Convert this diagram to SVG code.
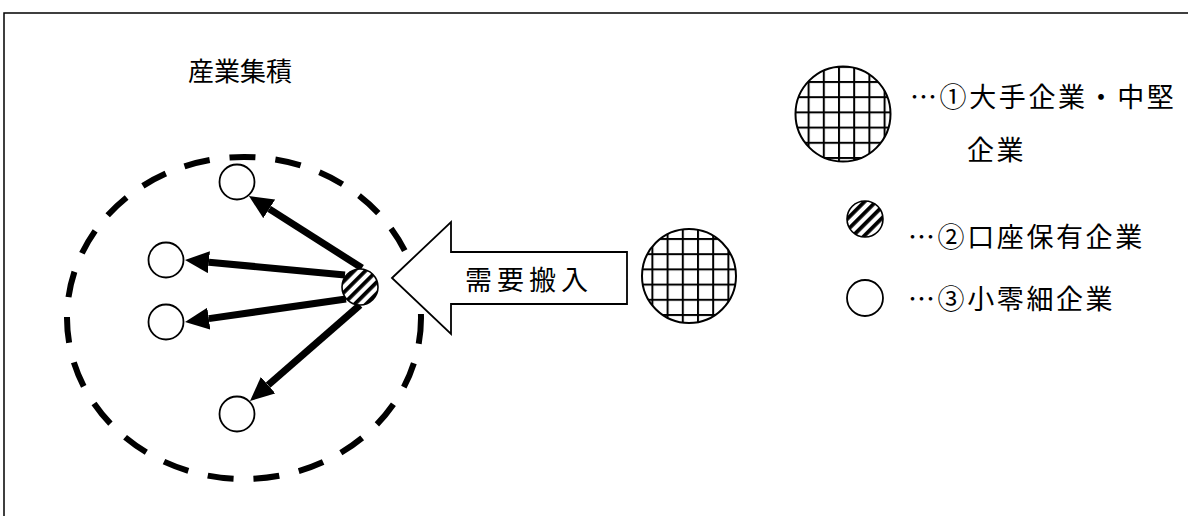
<svg xmlns="http://www.w3.org/2000/svg" width="1188" height="516" viewBox="0 0 1188 516">
<style>
.t{font-family:"Noto Sans CJK JP","Noto Sans CJK SC",sans-serif;font-size:27px;fill:#000}
.ls{letter-spacing:2.6px}
.ls2{letter-spacing:5px}
.w{fill:#fff;stroke:#000;stroke-width:1.8}
.h{fill:url(#hatch);stroke:#000;stroke-width:1.6}
.conn{stroke:#000;stroke-width:7;fill:none;marker-end:url(#ah)}
</style>
<defs>
<pattern id="hatch" patternUnits="userSpaceOnUse" width="8" height="8" patternTransform="rotate(45)">
<rect width="8" height="8" fill="#fff"/>
<rect width="3.8" height="8" fill="#000"/>
</pattern>
<pattern id="grid1" patternUnits="userSpaceOnUse" x="13" y="10" width="15.2" height="15.2">
<rect width="15.2" height="15.2" fill="#fff"/>
<rect width="2" height="15.2" fill="#000"/>
<rect width="15.2" height="2" fill="#000"/>
</pattern>
<pattern id="grid2" patternUnits="userSpaceOnUse" x="2" y="5" width="15.2" height="15.2">
<rect width="15.2" height="15.2" fill="#fff"/>
<rect width="2" height="15.2" fill="#000"/>
<rect width="15.2" height="2" fill="#000"/>
</pattern>
<marker id="ah" viewBox="0 -11 24 22" refX="0" refY="0" markerWidth="24" markerHeight="22" markerUnits="userSpaceOnUse" orient="auto">
<path d="M0,-11 L24,0 L0,11 z" fill="#000"/>
</marker>
</defs>

<path d="M4,516 V13 H1188" fill="none" stroke="#000" stroke-width="1.5"/>

<g id="cluster">
<ellipse cx="244" cy="318" rx="177" ry="161" fill="none" stroke="#000" stroke-width="6" stroke-dasharray="26 20"/>
<text class="t" x="188" y="81" style="font-size:26px">産業集積</text>
</g>

<g id="demand-arrow">
<polygon points="392,278 451,222 451,252 627,252 627,304 451,304 451,334" fill="#fff" stroke="#000" stroke-width="1.8" stroke-linejoin="miter"/>
<text class="t ls2" x="465" y="290">需要搬入</text>
</g>

<g id="big-company">
<circle cx="689" cy="276" r="47" fill="url(#grid1)" stroke="#000" stroke-width="2"/>
</g>

<g id="small-1"><circle class="w" cx="237" cy="182" r="17.5"/></g>
<g id="small-2"><circle class="w" cx="166" cy="260" r="17.5"/></g>
<g id="small-3"><circle class="w" cx="166" cy="322" r="17.5"/></g>
<g id="small-4"><circle class="w" cx="237" cy="414" r="17.5"/></g>

<g id="connectors">
<line class="conn" x1="362" y1="268" x2="269.2" y2="208.9"/>
<line class="conn" x1="345" y1="275" x2="208.9" y2="262.2"/>
<line class="conn" x1="346" y1="299" x2="208.8" y2="318.6"/>
<line class="conn" x1="360" y1="305" x2="268.1" y2="385.2"/>
</g>

<g id="account-company"><circle class="h" cx="360" cy="287" r="18"/></g>

<g id="legend-1">
<circle cx="843" cy="114" r="47.5" fill="url(#grid2)" stroke="#000" stroke-width="2"/>
<text class="t ls" x="910" y="107">…①大手企業・中堅</text>
<text class="t ls" x="967" y="160">企業</text>
</g>
<g id="legend-2">
<circle class="h" cx="865" cy="219" r="18"/>
<text class="t ls" x="908" y="247">…②口座保有企業</text>
</g>
<g id="legend-3">
<circle class="w" cx="865" cy="298" r="18"/>
<text class="t ls" x="908" y="309">…③小零細企業</text>
</g>
</svg>
